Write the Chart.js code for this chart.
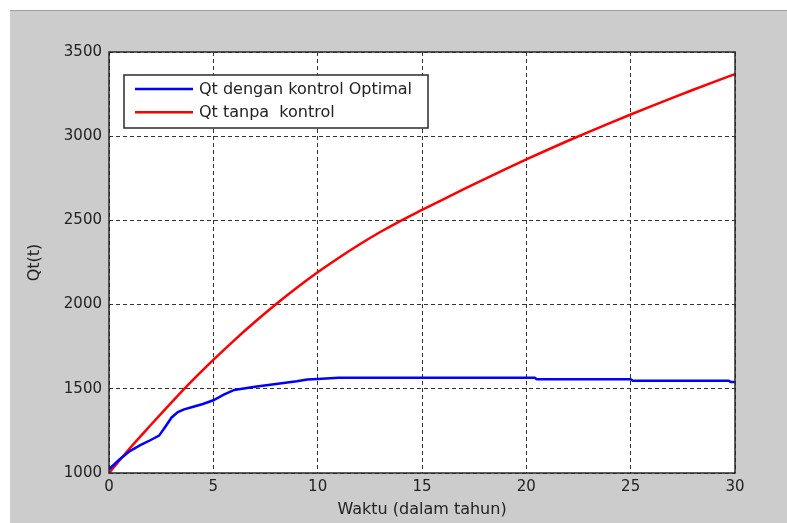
<!DOCTYPE html>
<html><head><meta charset="utf-8">
<script src="https://cdn.jsdelivr.net/npm/chart.js@4.4.1/dist/chart.umd.min.js"></script>
<style>
html,body{margin:0;padding:0;background:#fff;overflow:hidden;}
#bg{position:absolute;left:10px;top:10px;width:777px;height:513px;background:#cccccc;border-top:1px solid #a0a0a0;box-sizing:border-box;}
#wrap{position:absolute;left:0;top:0;width:787px;height:523px;}
</style></head><body>
<div id="bg"></div>
<div id="wrap"><canvas id="c" width="787" height="523"></canvas></div>
<script>
// Data
const xTicks = [0, 5, 10, 15, 20, 25, 30];
const yTicks = [1000, 1500, 2000, 2500, 3000, 3500];

const blueLabel = "Qt dengan kontrol Optimal";
const blueT = [0, 0.5, 1, 1.5, 2, 2.4, 2.7, 3.0, 3.3, 3.6, 4, 4.5, 5, 5.5, 6, 7, 8, 9, 9.5, 10, 11, 20.4, 20.5, 25, 25.1, 29.7, 29.8, 30];
const blueQ = [1022, 1080, 1130, 1165, 1196, 1222, 1275, 1330, 1362, 1378, 1392, 1410, 1432, 1465, 1493, 1512, 1528, 1545, 1555, 1558, 1566, 1566, 1557, 1557, 1548, 1548, 1540, 1540];

const redLabel = "Qt tanpa  kontrol";
const redT = [0, 1, 2, 3, 4, 5, 6, 7, 8, 9, 10, 11, 12, 13, 14, 15, 16, 17, 18, 19, 20, 21, 22, 23, 24, 25, 26, 27, 28, 29, 30];
const redQ = [1000, 1147, 1285, 1420, 1550, 1672, 1788, 1898, 2002, 2100, 2192, 2277, 2357, 2431, 2499, 2562, 2624, 2685, 2745, 2804, 2862, 2918, 2973, 3026, 3078, 3129, 3179, 3228, 3276, 3323, 3369];

const toXY = (t, q) => t.map((v, i) => ({x: v, y: q[i]}));

const FONT = "'DejaVu Sans', Verdana, sans-serif";
const TXT = '#222222';

const plotBg = {
  id: 'plotBg',
  beforeDraw(chart) {
    const {ctx, chartArea: a} = chart;
    ctx.save();
    ctx.fillStyle = '#ffffff';
    ctx.fillRect(a.left, a.top, a.right - a.left, a.bottom - a.top);
    ctx.restore();
  },
  afterDraw(chart) {
    const {ctx, chartArea: a} = chart;
    ctx.save();
    ctx.strokeStyle = '#2a2a2a';
    ctx.lineWidth = 1.5;
    ctx.strokeRect(a.left, a.top, a.right - a.left, a.bottom - a.top);
    // legend box
    const lx = 124, ly = 75, lw = 304, lh = 53;
    ctx.fillStyle = '#ffffff';
    ctx.fillRect(lx, ly, lw, lh);
    ctx.strokeStyle = '#2a2a2a';
    ctx.lineWidth = 1.5;
    ctx.strokeRect(lx, ly, lw, lh);
    ctx.font = '16px ' + FONT;
    ctx.textBaseline = 'middle';
    ctx.textAlign = 'left';
    chart.data.datasets.forEach((ds, i) => {
      const y = 89 + i * 23.3;
      ctx.strokeStyle = ds.borderColor;
      ctx.lineWidth = 2.5;
      ctx.beginPath();
      ctx.moveTo(135, y);
      ctx.lineTo(193, y);
      ctx.stroke();
      ctx.fillStyle = TXT;
      ctx.fillText(ds.label, 199, y + 1);
    });
    ctx.restore();
  }
};

new Chart(document.getElementById('c'), {
  type: 'line',
  data: {
    datasets: [
      {label: blueLabel, data: toXY(blueT, blueQ), borderColor: '#0000ff', borderWidth: 2.5, pointRadius: 0, tension: 0, fill: false},
      {label: redLabel, data: toXY(redT, redQ), borderColor: '#ff0000', borderWidth: 2.5, pointRadius: 0, cubicInterpolationMode: 'monotone', fill: false}
    ]
  },
  options: {
    responsive: false,
    animation: false,
    layout: {padding: {left: 0, right: 52, top: 52, bottom: 0}},
    plugins: {legend: {display: false}, tooltip: {enabled: false}},
    scales: {
      x: {
        type: 'linear', min: 0, max: 30,
        afterBuildTicks: s => { s.ticks = xTicks.map(v => ({value: v})); },
        afterFit: s => { s.height = 50; },
        grid: {color: '#333333', lineWidth: 1, drawTicks: false},
        border: {display: false, dash: [4, 3]},
        ticks: {font: {family: FONT, size: 15}, color: TXT, padding: 5, maxRotation: 0, callback: v => String(v)},
        title: {display: true, text: 'Waktu (dalam tahun)', font: {family: FONT, size: 16}, color: TXT, padding: {top: 0, bottom: 4}}
      },
      y: {
        type: 'linear', min: 1000, max: 3500,
        afterBuildTicks: s => { s.ticks = yTicks.map(v => ({value: v})); },
        afterFit: s => { s.width = 109; },
        grid: {color: '#333333', lineWidth: 1, drawTicks: false},
        border: {display: false, dash: [4, 3]},
        ticks: {font: {family: FONT, size: 15}, color: TXT, padding: 7, callback: v => String(v)},
        title: {display: true, text: 'Qt(t)', font: {family: FONT, size: 16}, color: TXT, padding: {top: 25, bottom: 0}}
      }
    }
  },
  plugins: [plotBg]
});
</script>
</body></html>
